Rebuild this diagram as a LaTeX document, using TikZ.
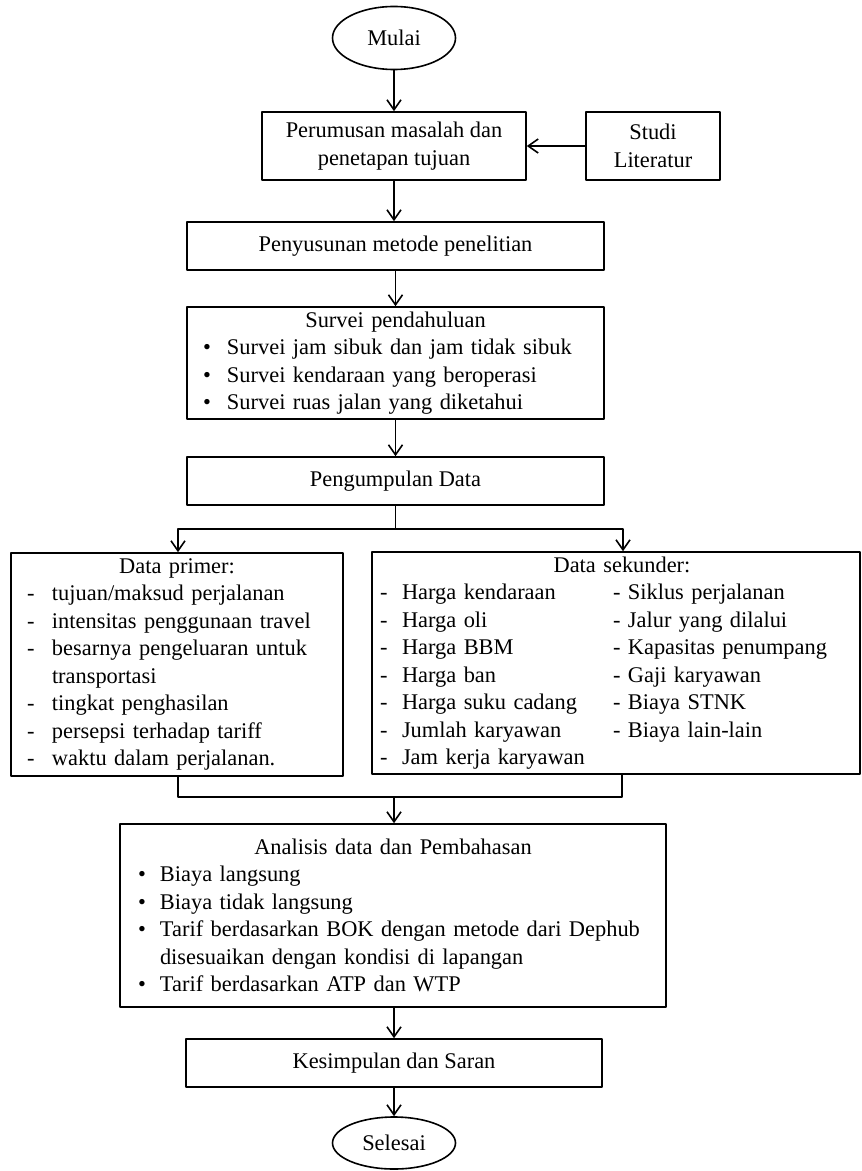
\documentclass[tikz,border=0pt]{standalone}
\usepackage{fontspec}
\setmainfont{Liberation Serif}
\usetikzlibrary{arrows.meta,shapes.geometric}

\tikzset{
  box/.style={draw, line width=0.8pt, align=center, inner sep=0pt},
  listbox/.style={draw, line width=0.8pt, align=left, inner ysep=0pt},
  term/.style={draw, ellipse, line width=0.8pt, inner sep=0pt, minimum width=61.5pt},
  conn/.style={->, line width=0.8pt}
}
\newcommand{\mk}[2][12pt]{\makebox[#1][l]{#2}}
\newcommand{\duo}[2]{\mk[11pt]{-}\makebox[105.5pt][l]{#1}- #2}

\begin{document}
\begin{tikzpicture}[line cap=round,line join=round,>={Straight Barb[length=5pt,width=7pt]},x=0.5pt,y=-0.5pt,font=\fontsize{11.2}{13.75}\selectfont]
	\useasboundingbox (0,0) rectangle (861,1171);
	
	\node[term, minimum height=31.5pt] (mulai) at (394,38) {Mulai};
	\node[box, minimum width=132pt, minimum height=34pt] (rumusan) at (394,146) {Perumusan masalah dan\\penetapan tujuan};
	\node[box, minimum width=67pt, minimum height=34pt] (studi) at (653,146) {Studi\\Literatur};
	\node[box, minimum width=208.5pt, minimum height=24pt] (metode) at (395.5,246) {Penyusunan metode penelitian};
	\node[listbox, text width=192.5pt, inner xsep=8pt, minimum height=56pt] (survei) at (395.5,363) {{\centering Survei pendahuluan\par}
		\mk{\textbullet}Survei jam sibuk dan jam tidak sibuk\\
		\mk{\textbullet}Survei kendaraan yang beroperasi\\
		\mk{\textbullet}Survei ruas jalan yang diketahui};
	\node[box, minimum width=208.5pt, minimum height=24pt] (kumpul) at (395.5,481) {Pengumpulan Data};
	
	\node[listbox, text width=150pt, inner xsep=8pt, minimum height=111.5pt] (primer) at (177,664.5) {{\centering Data primer:\par}
		\mk[12.5pt]{-}tujuan/maksud perjalanan\\
		\mk[12.5pt]{-}intensitas penggunaan travel\\
		\mk[12.5pt]{-}besarnya pengeluaran untuk\\
		\mk[12.5pt]{}transportasi\\
		\mk[12.5pt]{-}tingkat penghasilan\\
		\mk[12.5pt]{-}persepsi terhadap tariff\\
		\mk[12.5pt]{-}waktu dalam perjalanan.};
	\node[listbox, text width=236pt, inner xsep=4pt, minimum height=111pt] (sekunder) at (616,663) {{\centering\hspace*{6pt}Data sekunder:\par}
		\duo{Harga kendaraan}{Siklus perjalanan}\\
		\duo{Harga oli}{Jalur yang dilalui}\\
		\duo{Harga BBM}{Kapasitas penumpang}\\
		\duo{Harga ban}{Gaji karyawan}\\
		\duo{Harga suku cadang}{Biaya STNK}\\
		\duo{Jumlah karyawan}{Biaya lain-lain}\\
		\mk[11pt]{-}Jam kerja karyawan};
	
	\node[listbox, text width=255pt, inner xsep=9pt, minimum height=91.5pt] (analisis) at (393,915.5) {{\centering Analisis data dan Pembahasan\par}
		\mk[11pt]{\textbullet}Biaya langsung\\
		\mk[11pt]{\textbullet}Biaya tidak langsung\\
		\mk[11pt]{\textbullet}\mbox{Tarif berdasarkan BOK dengan metode dari Dephub}\\
		\mk[11pt]{}disesuaikan dengan kondisi di lapangan\\
		\mk[11pt]{\textbullet}Tarif berdasarkan ATP dan WTP};
	\node[box, minimum width=208pt, minimum height=24pt] (simpul) at (394,1063) {Kesimpulan dan Saran};
	\node[term, minimum height=26pt] (selesai) at (394,1143) {Selesai};
	
	% alur utama
	\draw[conn] (mulai) -- (rumusan);
	\draw[conn] (studi) -- (rumusan);
	\draw[conn] (rumusan.south) -- (rumusan.south |- metode.north);
	\draw[conn] (metode) -- (survei);
	\draw[conn] (survei) -- (kumpul);
	
	% percabangan data
	\coordinate (bagi) at (395.5,529);
	\draw[line width=0.8pt] (kumpul.south) -- (bagi);
	\draw[conn] (bagi) -| ([xshift=0.5pt]primer.north);
	\draw[conn] (bagi) -| ([xshift=3.5pt]sekunder.north);
	\coordinate (gabung) at (394,797);
	\draw[line width=0.8pt] ([xshift=0.5pt]primer.south) |- (gabung);
	\draw[line width=0.8pt] ([xshift=3pt]sekunder.south) |- (gabung);
	\draw[conn] (gabung) -- (gabung |- analisis.north);
	
	\draw[conn] (simpul.north |- analisis.south) -- (simpul.north);
	\draw[conn] (simpul) -- (selesai);
\end{tikzpicture}
\end{document}
